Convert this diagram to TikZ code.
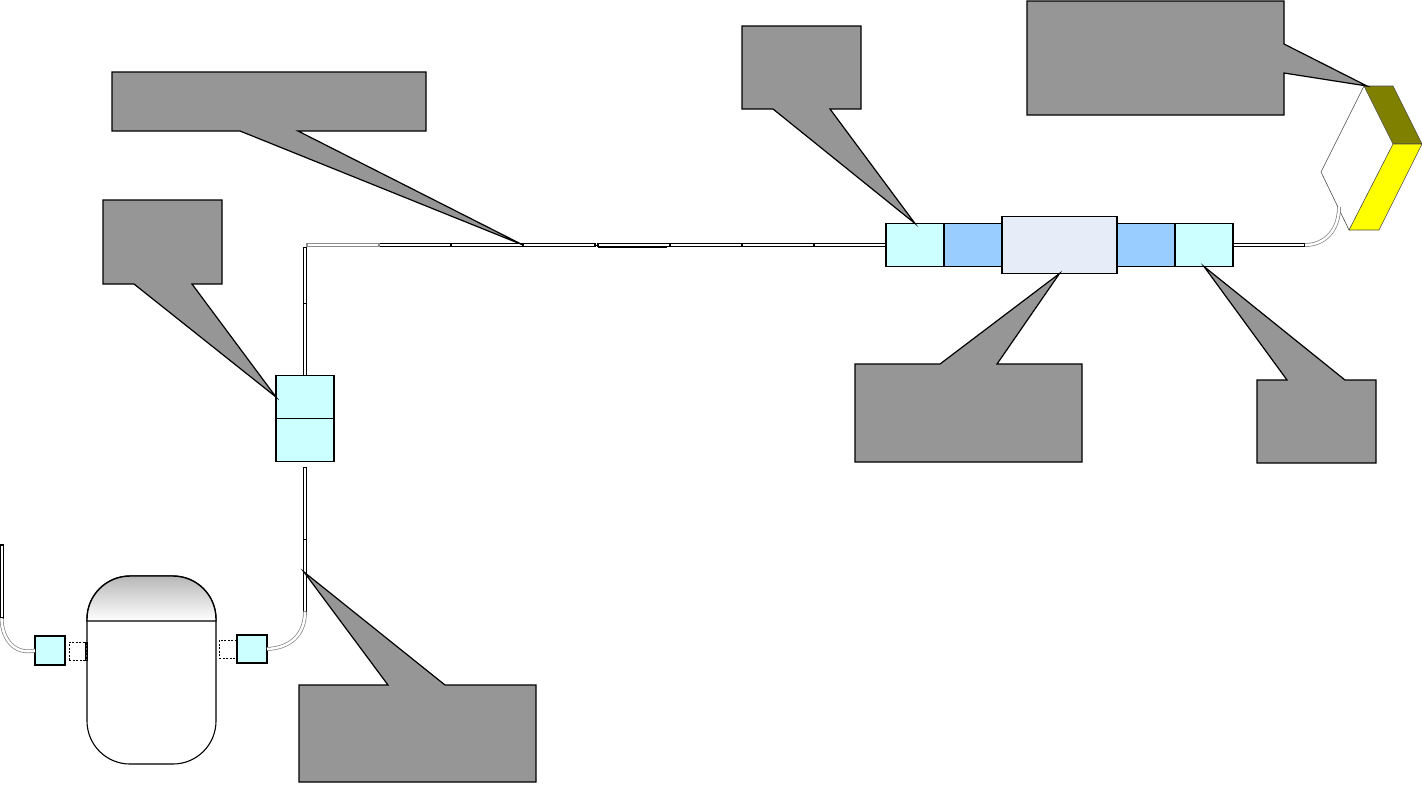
\documentclass[tikz,border=0pt]{standalone}
\usetikzlibrary{positioning}

\definecolor{capcyan}{HTML}{CCFFFF}
\definecolor{coilblue}{HTML}{99CCFF}
\definecolor{tubepale}{HTML}{E6ECF8}
\definecolor{notegray}{HTML}{969696}
\definecolor{bendolive}{HTML}{808000}
\definecolor{bendyellow}{HTML}{FFFF00}

\tikzset{
  block/.style={draw,line width=0.55pt,inner sep=0pt,outer sep=0pt},
  capbox/.style={block,fill=capcyan,minimum width=29pt,minimum height=21.5pt},
  coilbox/.style={block,fill=coilblue,minimum width=29pt,minimum height=21.5pt},
  hsec/.style={draw,line width=0.6pt,fill=white,inner sep=0pt,outer sep=0pt,minimum width=36pt,minimum height=1.6pt},
  vsec/.style={draw,line width=0.6pt,fill=white,inner sep=0pt,outer sep=0pt,minimum width=1.6pt,minimum height=36pt},
  bendpipe/.style={draw=gray,line width=0.35pt,double=white,double distance=1.2pt},
  callout/.style={draw,line width=0.6pt,fill=notegray,line join=miter},
  portbox/.style={draw,line width=0.4pt,dash pattern=on 1pt off 0.8pt,inner sep=0pt,outer sep=0pt,minimum width=9pt,minimum height=9pt},
  mirror/.style={draw=black!70,line width=0.3pt}
}

\begin{document}
\begin{tikzpicture}[x=0.5pt,y=-0.5pt]
\useasboundingbox (0,0) rectangle (1422,784);

% beam line, right hand part
\node [capbox] (capA) at (915,245) {};
\node [coilbox,right=0pt of capA] (coilA) {};
\node [block,fill=tubepale,minimum width=57.5pt,minimum height=28.5pt,right=0pt of coilA] (tubeM) {};
\node [coilbox,right=0pt of tubeM] (coilB) {};
\node [capbox,right=0pt of coilB] (capB) {};
\node [hsec,right=0pt of capB] (secOut) {};

% straight sections going left
\foreach \nm/\prev in {secA/capA,secB/secA,secC/secB,secD/secC}
  \node [hsec,left=0pt of \prev] (\nm) {};
\draw [line width=1pt] ([yshift=-0.9pt]secD.west) -- ([xshift=-1.5pt,yshift=-0.9pt]secD.east);
\node [hsec,left=1.5pt of secD] (secE) {};
\draw [line width=0.5pt] (secE.east) -- (secD.west);
\foreach \nm/\prev in {secF/secE,secG/secF}
  \node [hsec,left=0pt of \prev] (\nm) {};
\node [hsec,draw=black!45,left=0pt of secG] (secH) {};

% upright sections and the double block
\node [capbox] (capC) at (305,397) {};
\node [capbox,below=0pt of capC] (capD) {};
\node [vsec,above=0pt of capC] (secJ) {};
\node [vsec,minimum height=28pt,above=0pt of secJ] (secK) {};
\node [vsec,below=3pt of capD] (secL) {};
\node [vsec,below=0pt of secL] (secM) {};

% vessel
\node [block,fill=white,rounded corners=21.5pt,minimum width=64.5pt,minimum height=94pt] (vessel) at (151.5,670) {};
\draw [line width=0.7pt,top color=black!28,bottom color=white] (87,621) [rounded corners=21.5pt] -- (87,576) -- (216,576) [sharp corners] -- (216,621) -- cycle;

% ports beside the vessel
\node [portbox,minimum width=8.5pt] (portL) at (77.5,651) {};
\node [portbox] (portR) at (228,649) {};
\node [draw,line width=0.4pt,inner sep=0pt,outer sep=0pt,minimum width=1pt,minimum height=9pt] (stubL) at (86,651) {};
\node [capbox,minimum width=15pt,minimum height=14.5pt] (capL) at (50,650.5) {};
\node [capbox,minimum width=15pt,minimum height=14pt] (capR) at (252,649) {};
\draw [line width=1pt] (capR.north west) -- (capR.south west);
\node [vsec,minimum height=36.5pt] (secP) at (1.5,581.5) {};

% bends
\draw [bendpipe] (secM.south) .. controls (305,635) and (290,648) .. (capR.east);
\draw [bendpipe] (secP.south) .. controls (2,640) and (15,655) .. (capL.west);

% bending magnet
\coordinate (magA) at (1364,86);
\coordinate (magB) at (1393,86);
\coordinate (magC) at (1422,144);
\coordinate (magD) at (1393,144);
\coordinate (magE) at (1379,230);
\coordinate (magF) at (1349,230);
\coordinate (magG) at (1321,172);
\draw [mirror] (magA) -- (magG) -- (magF);
\draw [mirror,fill=bendolive] (magA) -- (magB) -- (magC) -- (magD) -- cycle;
\draw [mirror,fill=bendyellow] (magD) -- (magC) -- (magE) -- (magF) -- cycle;
\coordinate (bendEnd) at (1339,207);
\draw [bendpipe] (secOut.east) .. controls (1325,245) and (1339,230) .. (bendEnd);

% callouts: left, right, base y, far y, foot, foot, tip
\coordinate (tipG) at (304,572);
\coordinate (tipD) at (1367,86);
\foreach \xa/\xb/\by/\fy/\pa/\pb/\tip in {
  112/426/131/72/240/298/secF.east,
  103/222/284/200/134/192/capC.west,
  742/861/109/26/773/830/capA.north,
  855/1082/364/462/940/997/tubeM.south,
  1257/1376/380/463/1287/1345/capB.south,
  299/536/685/782/388/445/tipG}
{
  \draw [callout] (\xa,\by) -- (\pa,\by) -- (\tip) -- (\pb,\by) -- (\xb,\by) -- (\xb,\fy) -- (\xa,\fy) -- cycle;
}
\draw [callout] (1027,1) -- (1284,1) -- (1284,44) -- (tipD) -- (1284,73) -- (1284,115) -- (1027,115) -- cycle;
\end{tikzpicture}
\end{document}
